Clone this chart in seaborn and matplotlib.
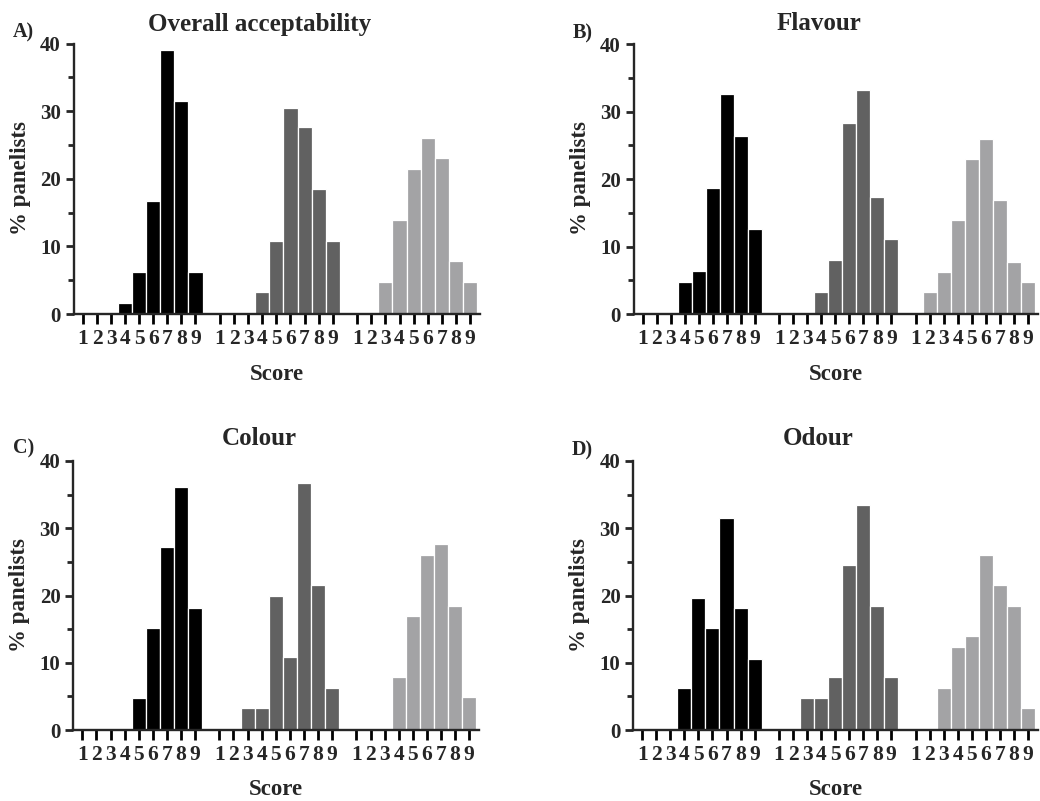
import matplotlib
matplotlib.use("Agg")
import matplotlib.pyplot as plt
import numpy as np
import pandas as pd
import seaborn as sns
from matplotlib.ticker import MultipleLocator

# Hedonic scores (1-9) and % of panelists giving each score, three samples per attribute
scores = [1, 2, 3, 4, 5, 6, 7, 8, 9]
score_labels = ["1", "2", "3", "4", "5", "6", "7", "8", "9"]

overall_s1 = [0, 0, 0, 1.7, 6.2, 16.7, 39.0, 31.5, 6.2]
overall_s2 = [0, 0, 0, 3.3, 10.8, 30.5, 27.6, 18.5, 10.8]
overall_s3 = [0, 0, 4.7, 13.9, 21.5, 26.0, 23.0, 7.8, 4.7]

flavour_s1 = [0, 0, 0, 4.8, 6.3, 18.7, 32.6, 26.3, 12.6]
flavour_s2 = [0, 0, 0, 3.3, 8.0, 28.3, 33.2, 17.4, 11.1]
flavour_s3 = [0, 3.2, 6.2, 13.9, 23.0, 26.0, 16.9, 7.7, 4.8]

colour_s1 = [0, 0, 0, 0, 4.7, 15.2, 27.2, 36.1, 18.2]
colour_s2 = [0, 0, 3.3, 3.3, 19.9, 10.9, 36.7, 21.5, 6.3]
colour_s3 = [0, 0, 0, 7.9, 16.9, 26.0, 27.6, 18.5, 4.9]

odour_s1 = [0, 0, 0, 6.2, 19.6, 15.2, 31.5, 18.2, 10.6]
odour_s2 = [0, 0, 4.8, 4.8, 7.9, 24.6, 33.5, 18.5, 7.9]
odour_s3 = [0, 0, 6.3, 12.4, 14.0, 26.0, 21.5, 18.5, 3.3]

panel_titles = ["Overall acceptability", "Flavour", "Colour", "Odour"]
panel_letters = ["A)", "B)", "C)", "D)"]
panel_series = [
    [overall_s1, overall_s2, overall_s3],
    [flavour_s1, flavour_s2, flavour_s3],
    [colour_s1, colour_s2, colour_s3],
    [odour_s1, odour_s2, odour_s3],
]
sample_names = ["sample 1", "sample 2", "sample 3"]
sample_colors = ["#000000", "#616161", "#a2a2a6"]

GROUP_STEP = 9.75  # spacing between the three 1-9 score blocks

sns.set_style("ticks")
plt.rcParams["font.family"] = ["Liberation Serif", "DejaVu Serif"]
plt.rcParams["font.weight"] = "bold"
plt.rcParams["axes.linewidth"] = 1.7

fig = plt.figure(figsize=(10.4, 8.01), dpi=100)

W, H = 1040, 801
axes_px = [  # left, right, top, bottom in pixels
    (73.5, 480.0, 43.5, 314.0),
    (633.5, 1038.0, 44.0, 314.0),
    (73.0, 479.0, 461.0, 730.0),
    (633.0, 1038.0, 461.0, 730.0),
]
letter_px = [(13, 37), (573, 38.5), (13, 453), (572, 455)]
title_y = [1.047, 1.052, 1.059, 1.059]

for i in range(4):
    l, r, t, b = axes_px[i]
    ax = fig.add_axes([l / W, 1 - b / H, (r - l) / W, (b - t) / H])

    rows = []
    for g, (name, vals) in enumerate(zip(sample_names, panel_series[i])):
        for s, v in zip(scores, vals):
            rows.append({"pos": s + GROUP_STEP * g, "pct": v, "sample": name})
    df = pd.DataFrame(rows)

    sns.barplot(
        data=df, x="pos", y="pct", hue="sample",
        palette=sample_colors, hue_order=sample_names,
        native_scale=True, width=1.0, dodge=False,
        edgecolor="white", linewidth=0.9,
        errorbar=None, legend=False, ax=ax,
    )

    ticks = [s + GROUP_STEP * g for g in range(3) for s in scores]
    ax.set_xticks(ticks)
    ax.set_xticklabels(score_labels * 3)
    ax.set_xlim(0.33, 29.22)
    ax.set_ylim(0, 40)
    ax.yaxis.set_major_locator(MultipleLocator(10))
    ax.yaxis.set_minor_locator(MultipleLocator(5))

    sns.despine(ax=ax)
    ax.tick_params(axis="x", length=7, width=2, pad=4, labelsize=15.5, color="black")
    ax.tick_params(axis="y", which="major", length=6, width=2, pad=3, labelsize=15)
    ax.tick_params(axis="y", which="minor", length=4, width=2)

    ax.set_xlabel("Score", fontsize=16.5, fontweight="bold")
    ax.xaxis.set_label_coords(0.5, -0.243)
    ax.xaxis.label.set_va("baseline")

    ax.set_ylabel("% panelists", fontsize=16.5, fontweight="bold")
    ax.yaxis.label.set_va("center")
    ax.yaxis.set_label_coords(-0.131, 0.503)

    ax.text(0.458, title_y[i], panel_titles[i], transform=ax.transAxes,
            ha="center", va="baseline", fontsize=18, fontweight="bold")

    lx, ly = letter_px[i]
    fig.text(lx / W, 1 - ly / H, panel_letters[i], ha="left", va="baseline",
             fontsize=14.5, fontweight="bold")

fig.savefig("out.png", dpi=100)
